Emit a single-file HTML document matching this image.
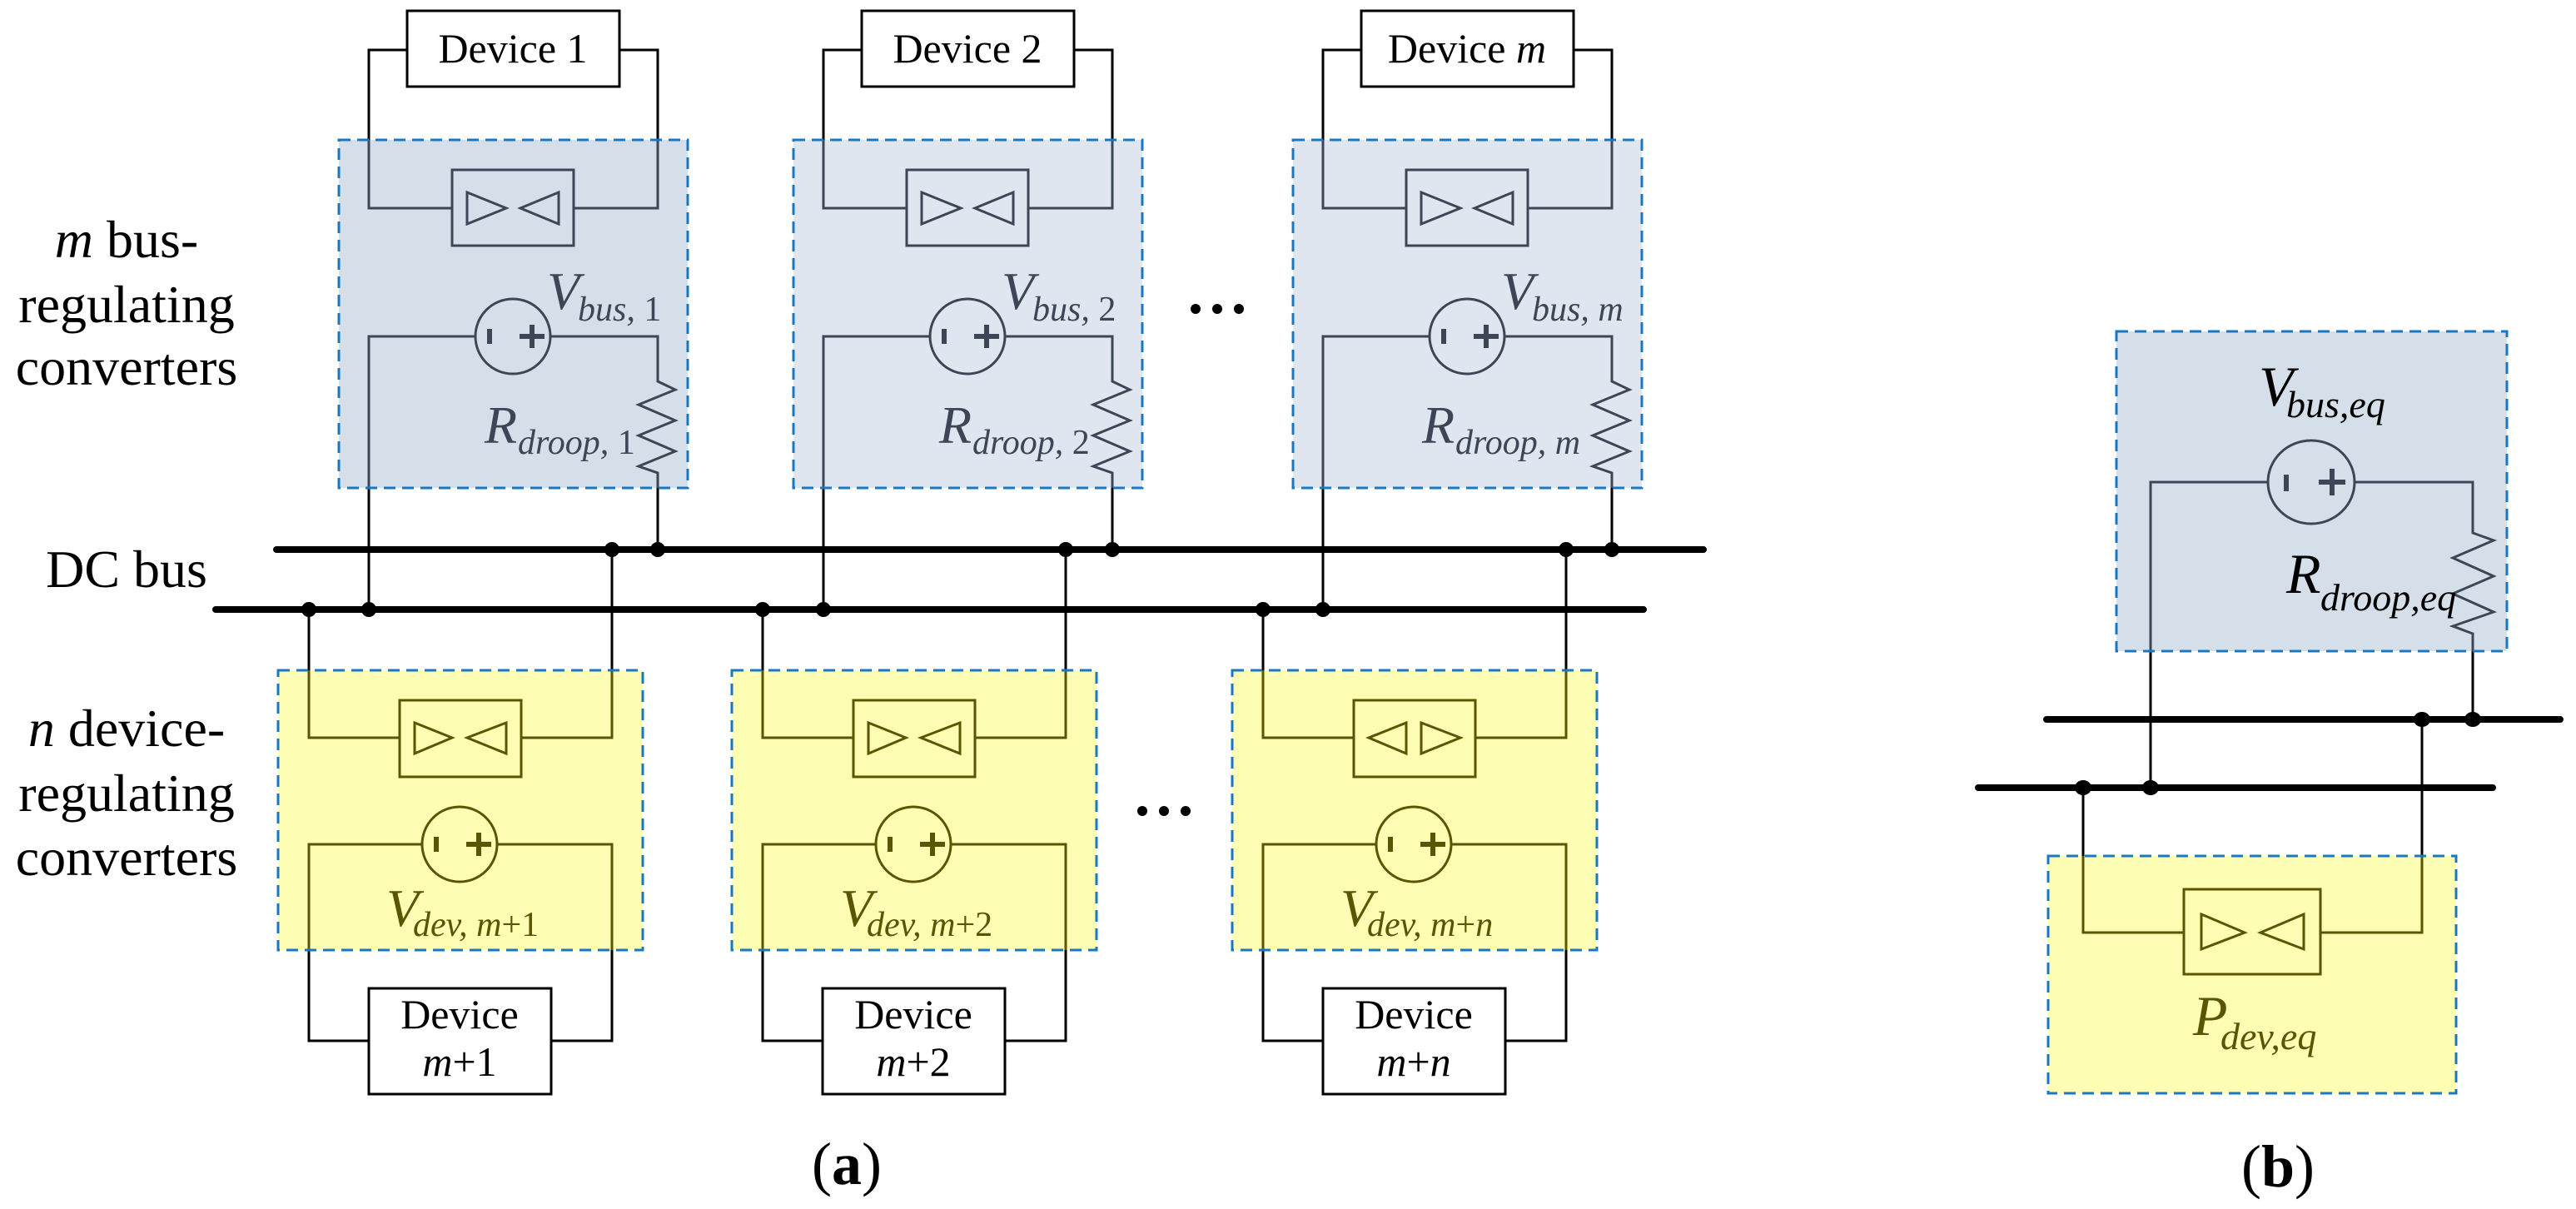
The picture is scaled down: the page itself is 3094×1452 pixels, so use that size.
<!DOCTYPE html>
<html><head><meta charset="utf-8"><style>
html,body{margin:0;padding:0;background:#fff;}
svg{display:block;}
text{font-family:"Liberation Serif",serif;}
</style></head><body>
<svg width="3094" height="1452" viewBox="0 0 3094 1452" xmlns="http://www.w3.org/2000/svg">
<defs>
<g id="up">
  <rect x="407" y="168" width="419" height="418" fill="currentColor" stroke="none"/>
  <path d="M489,60 H443 V168 M744,60 H790 V168 M443,586 V732 M790,586 V660" fill="none" stroke="#000" stroke-width="3"/>
  <g fill="none" stroke="#3c4656" stroke-width="3">
    <path d="M443,168 V250 H543 M689,250 H790 V168"/>
    <path d="M443,586 V404 H571 M661,404 H790 V458 L811,468 L767,486 L811,505 L767,523 L811,542 L767,560 L790,568 V586"/>
    <rect x="543" y="204" width="146" height="91"/>
    <polygon points="561,231 608,250 561,269"/>
    <polygon points="671,231 625,250 671,269"/>
    <circle cx="616" cy="404" r="45"/>
    <path d="M588,395 V413 M624,404 H654 M639,390 V418" stroke-width="6"/>
  </g>
  <rect x="407" y="168" width="419" height="418" fill="none" stroke="#1a78c2" stroke-width="3" stroke-dasharray="14,8"/>
  <rect x="489" y="13" width="255" height="91" fill="#fff" stroke="#000" stroke-width="3"/>
</g>
<g id="low">
  <rect x="334" y="805" width="438" height="336" fill="#fdfdb4"/>
  <path d="M371,732 V805 M735,660 V805 M371,1141 V1250 H443 M662,1250 H735 V1141" fill="none" stroke="#000" stroke-width="3"/>
  <g fill="none" stroke="#5a5500" stroke-width="3">
    <path d="M371,805 V886 H480 M626,886 H735 V805"/>
    <path d="M371,1141 V1014 H507 M597,1014 H735 V1141"/>
    <rect x="480" y="841" width="146" height="92"/>
    <circle cx="552" cy="1014" r="45"/>
    <path d="M524,1005 V1023 M560,1014 H590 M575,1000 V1028" stroke-width="6"/>
  </g>
  <rect x="334" y="805" width="438" height="336" fill="none" stroke="#1a78c2" stroke-width="3" stroke-dasharray="14,8"/>
  <rect x="443" y="1187" width="219" height="127" fill="#fff" stroke="#000" stroke-width="3"/>
</g>
<g id="triR"><polygon points="498,868 543,886 498,905" fill="none" stroke="#5a5500" stroke-width="3"/><polygon points="608,868 561,886 608,905" fill="none" stroke="#5a5500" stroke-width="3"/></g>
</defs>

<!-- upper modules -->
<use href="#up" style="color:#d5dfea"/>
<use href="#up" x="546" style="color:#dfe6f0"/>
<use href="#up" x="1146" style="color:#dfe6f0"/>

<!-- lower modules -->
<use href="#low"/>
<use href="#triR"/>
<use href="#low" x="545"/>
<use href="#triR" x="545"/>
<use href="#low" x="1146"/>
<g fill="none" stroke="#5a5500" stroke-width="3">
  <polygon points="1689,868 1644,886 1689,905"/>
  <polygon points="1707,868 1754,886 1707,905"/>
</g>
<!-- buses -->
<path d="M332,660 H2046 M259,732 H1974" stroke="#000" stroke-width="8" stroke-linecap="round"/>
<g fill="#000">
<circle cx="443" cy="732" r="9"/><circle cx="790" cy="660" r="9"/><circle cx="371" cy="732" r="9"/><circle cx="735" cy="660" r="9"/>
<circle cx="989" cy="732" r="9"/><circle cx="1336" cy="660" r="9"/><circle cx="916" cy="732" r="9"/><circle cx="1280" cy="660" r="9"/>
<circle cx="1589" cy="732" r="9"/><circle cx="1936" cy="660" r="9"/><circle cx="1517" cy="732" r="9"/><circle cx="1881" cy="660" r="9"/>
</g>

<!-- device labels -->
<g font-size="50" text-anchor="middle" fill="#000">
<text x="616" y="75">Device 1</text>
<text x="1162" y="75">Device 2</text>
<text x="1762" y="75">Device <tspan font-style="italic">m</tspan></text>
<text x="552" y="1235">Device</text><text x="552" y="1292"><tspan font-style="italic">m</tspan>+1</text>
<text x="1097" y="1235">Device</text><text x="1097" y="1292"><tspan font-style="italic">m</tspan>+2</text>
<text x="1698" y="1235">Device</text><text x="1698" y="1292"><tspan font-style="italic">m</tspan>+<tspan font-style="italic">n</tspan></text>
</g>

<!-- upper labels -->
<g fill="#3c4656">
<text x="657" y="371" font-size="64" font-style="italic">V</text><text x="694" y="385" font-size="42"><tspan font-style="italic">bus,</tspan> 1</text>
<text x="582" y="532" font-size="64" font-style="italic">R</text><text x="622" y="545" font-size="42"><tspan font-style="italic">droop,</tspan> 1</text>
<text x="1203" y="371" font-size="64" font-style="italic">V</text><text x="1240" y="385" font-size="42"><tspan font-style="italic">bus,</tspan> 2</text>
<text x="1128" y="532" font-size="64" font-style="italic">R</text><text x="1168" y="545" font-size="42"><tspan font-style="italic">droop,</tspan> 2</text>
<text x="1803" y="371" font-size="64" font-style="italic">V</text><text x="1840" y="385" font-size="42" font-style="italic">bus, m</text>
<text x="1708" y="532" font-size="64" font-style="italic">R</text><text x="1748" y="545" font-size="42" font-style="italic">droop, m</text>
</g>
<!-- lower labels -->
<g fill="#5a5500">
<text x="464" y="1112" font-size="64" font-style="italic">V</text><text x="496" y="1124" font-size="42"><tspan font-style="italic">dev, m</tspan>+1</text>
<text x="1009" y="1112" font-size="64" font-style="italic">V</text><text x="1041" y="1124" font-size="42"><tspan font-style="italic">dev, m</tspan>+2</text>
<text x="1610" y="1112" font-size="64" font-style="italic">V</text><text x="1642" y="1124" font-size="42"><tspan font-style="italic">dev, m</tspan>+<tspan font-style="italic">n</tspan></text>
</g>

<!-- ellipses -->
<g fill="#000">
<circle cx="1436" cy="371" r="6"/><circle cx="1462" cy="371" r="6"/><circle cx="1488" cy="371" r="6"/>
<circle cx="1372" cy="974" r="6"/><circle cx="1398" cy="974" r="6"/><circle cx="1424" cy="974" r="6"/>
</g>

<!-- left text -->
<g font-size="64" fill="#000" text-anchor="middle">
<text x="152" y="309"><tspan font-style="italic">m</tspan> bus-</text>
<text x="152" y="387">regulating</text>
<text x="152" y="462">converters</text>
<text x="152" y="705">DC bus</text>
<text x="152" y="896"><tspan font-style="italic">n</tspan> device-</text>
<text x="152" y="974">regulating</text>
<text x="152" y="1051">converters</text>
</g>
<text x="1017" y="1422" font-size="72" text-anchor="middle">(<tspan font-weight="bold">a</tspan>)</text>

<!-- panel b -->
<rect x="2542" y="398" width="469" height="384" fill="#d5dfea"/>
<rect x="2460" y="1028" width="490" height="285" fill="#fdfdb4"/>
<path d="M2583,782 V946 M2970,782 V864 M2502,946 V1028 M2909,864 V1028" stroke="#000" stroke-width="3" fill="none"/>
<g fill="none" stroke="#3c4656" stroke-width="3">
<path d="M2583,782 V579 H2724 M2828,579 H2970 V640 L2995,649 L2946,670 L2995,692 L2946,713 L2995,735 L2946,752 L2970,761 V782"/>
<ellipse cx="2776" cy="579" rx="52" ry="50"/>
<path d="M2746,570 V590 M2785,579 H2817 M2801,563 V595" stroke-width="6"/>
</g>
<g fill="none" stroke="#5a5500" stroke-width="3">
<path d="M2502,1028 V1120 H2623 M2787,1120 H2909 V1028"/>
<rect x="2623" y="1068" width="164" height="102"/>
<polygon points="2644,1098 2696,1120 2644,1140"/>
<polygon points="2767,1098 2715,1120 2767,1140"/>
</g>
<rect x="2542" y="398" width="469" height="384" fill="none" stroke="#1a78c2" stroke-width="3" stroke-dasharray="14,8"/>
<rect x="2460" y="1028" width="490" height="285" fill="none" stroke="#1a78c2" stroke-width="3" stroke-dasharray="14,8"/>
<path d="M2458,864 H3075 M2376,946 H2994" stroke="#000" stroke-width="8" stroke-linecap="round"/>
<g fill="#000"><ellipse cx="2909" cy="864" rx="10" ry="9"/><ellipse cx="2970" cy="864" rx="10" ry="9"/><ellipse cx="2502" cy="946" rx="10" ry="9"/><ellipse cx="2583" cy="946" rx="10" ry="9"/></g>
<g font-style="italic">
<text x="2713" y="487" font-size="68" fill="#000">V</text><text x="2746" y="501" font-size="46" fill="#000">bus,eq</text>
<text x="2746" y="712" font-size="68" fill="#000">R</text><text x="2787" y="733" font-size="46" fill="#000">droop,eq</text>
<text x="2634" y="1243" font-size="68" fill="#5a5500">P</text><text x="2667" y="1260" font-size="46" fill="#5a5500">dev,eq</text>
</g>
<text x="2736" y="1425" font-size="72" text-anchor="middle">(<tspan font-weight="bold">b</tspan>)</text>
</svg>
</body></html>
